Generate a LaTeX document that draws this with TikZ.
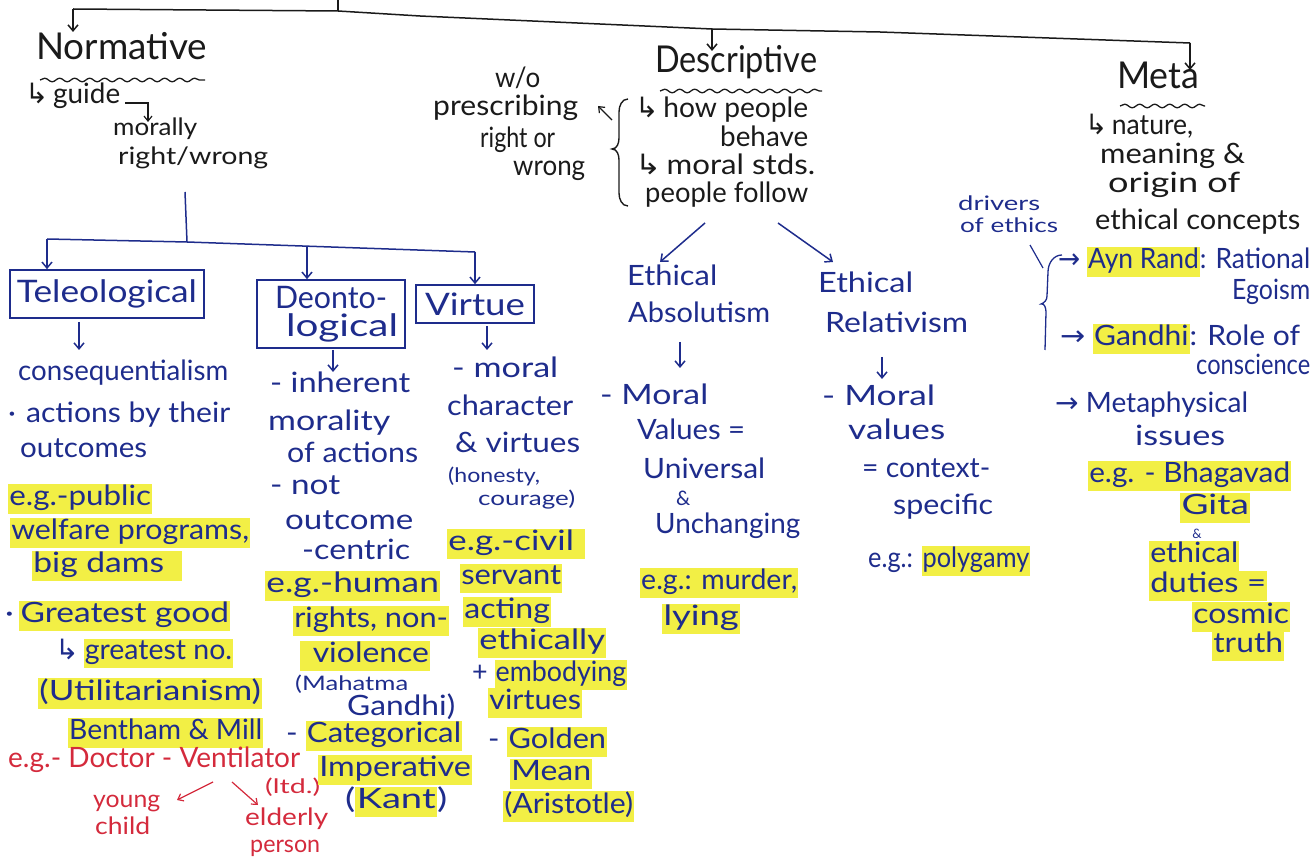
\documentclass[tikz,border=0pt]{standalone}
\usepackage{fontspec}
\setmainfont{Lato}
\newfontfamily\symf{DejaVu Sans}
\usepackage{graphicx}
\usetikzlibrary{arrows.meta,decorations.pathmorphing}
\definecolor{ink}{HTML}{1A1A1A}
\definecolor{pen}{HTML}{1E2C8C}
\definecolor{redpen}{HTML}{D42A3C}
\definecolor{hly}{HTML}{F2EF45}
% stretch a line of text to a given width, keeping its height
\newcommand\fw[2]{\resizebox{#1pt}{\height}{#2}}
% highlighter marks
\newcommand\hlt[1]{{\setlength\fboxsep{1pt}\colorbox{hly}{\rule[-7pt]{0pt}{27pt}#1}}}
\newcommand\hk{{\symf ↳}}
\newcommand\ra{{\symf →}}
\tikzset{
  ln/.style={anchor=mid west, inner sep=0pt, font=\fontsize{28}{30}\selectfont},
  md/.style={font=\fontsize{24}{28}\selectfont},
  sm/.style={font=\fontsize{20}{24}\selectfont},
  hd/.style={font=\fontsize{37}{40}\selectfont},
  k/.style={text=ink}, b/.style={text=pen}, r/.style={text=redpen},
  bar/.style={line width=1.5pt},
  con/.style={line width=1.5pt, -{Straight Barb[length=6pt,width=10pt]}},
  thin/.style={line width=1.2pt, -{Straight Barb[length=5pt,width=8pt]}},
  catbox/.style={draw=pen, line width=1.6pt, text=pen, inner sep=0pt,
    font=\fontsize{31}{34}\selectfont, align=center},
  wavy/.style={line width=1.3pt, draw=ink, decorate,
    decoration={snake, amplitude=1.8pt, segment length=15pt}}
}
\begin{document}
\begin{tikzpicture}[x=1pt, y=-1pt]
\useasboundingbox (0,0) rectangle (1314,866);

% ---------- top level tree ----------
\coordinate (T0) at (338,0);
\coordinate (T1) at (338,11);
\coordinate (L0) at (73,9);
\coordinate (D0) at (712,29);
\coordinate (M0) at (1190,43);
\coordinate (Tm1) at (420,16);
\coordinate (Tm2) at (880,32);
\coordinate (L1) at (73,32);
\coordinate (D1) at (712,51);
\coordinate (M1) at (1190,70);
\draw[bar,ink] (T0) -- (T1);
\draw[bar,ink] (L0) -- (T1) -- (Tm1) -- (D0) -- (Tm2) -- (M0);
\draw[con,ink] (L0) -- (L1);
\draw[con,ink] (D0) -- (D1);
\draw[con,ink] (M0) -- (M1);

% ---------- Normative ----------
\node[ln,hd,k] (q1) at (36,57) {\fw{171}{Normative}};
\draw[wavy] (40,80) -- (205,80);
\node[ln,k] (q2) at (25,101) {\fw{95}{\hk\,guide}};
\coordinate (g0) at (125,103);
\coordinate (g1) at (148,103);
\coordinate (g2) at (148,122);
\draw[thin,ink] (g0) -- (g1) -- (g2);
\node[ln,md,k] (q3) at (113,133) {\fw{84}{morally}};
\node[ln,md,k] (q4) at (118,162) {\fw{150}{right/wrong}};

\coordinate (N0) at (185,192);
\coordinate (N1) at (187,242);
\coordinate (NL) at (47,239);
\coordinate (ND) at (307,246);
\coordinate (NR) at (475,252);
\draw[bar,pen] (N0) -- (N1);
\draw[bar,pen] (NL) -- (N1) -- (NR);

\node[catbox, minimum width=194pt, minimum height=48pt] (B1) at (107,294) {\fw{180}{Teleological}};
\node[catbox, minimum width=148pt, minimum height=68pt] (B2) at (331,314) {\fw{112}{Deonto-}\\[-6pt]\hspace*{22pt}\fw{112}{logical}};
\node[catbox, minimum width=118pt, minimum height=38pt] (B3) at (475,304) {\fw{100}{Virtue}};
\draw[con,pen] (NL) -- (NL |- B1.north);
\draw[con,pen] (ND) -- (ND |- B2.north);
\draw[con,pen] (NR) -- (NR |- B3.north);

\coordinate (a0) at (79,322);
\coordinate (a00) at (79,350);
\draw[con,pen] (a0) -- (a00);
\coordinate (d0) at (333,350);
\coordinate (d00) at (333,372);
\draw[con,pen] (d0) -- (d00);
\coordinate (v0) at (487,326);
\coordinate (v00) at (487,350);
\draw[con,pen] (v0) -- (v00);

% Teleological column
\node[ln,b] (a1) at (18,378) {\fw{210}{consequentialism}};
\node[ln,b] (a2) at (8,420) {\fw{222}{·\,\,actions by their}};
\node[ln,b] (a3) at (20,455) {\fw{127}{outcomes}};
\node[ln,b] (a4) at (8,503) {\fw{144}{\hlt{e.g.-public}}};
\node[ln,b] (a5) at (10,537) {\fw{240}{\hlt{welfare programs,}}};
\node[ln,b] (a6) at (32,570) {\fw{150}{\hlt{big dams\hspace{14pt}}}};
\node[ln,b] (a7) at (5,620) {\fw{225}{·\,\hlt{Greatest good}}};
\node[ln,b] (a8) at (55,657) {\fw{178}{\hk\,\hlt{greatest no.}}};
\node[ln,b] (a9) at (38,698) {\fw{224}{\hlt{(Utilitarianism)}}};
\node[ln,b] (a10) at (68,737) {\fw{195}{\hlt{Bentham \& Mill}}};
\node[ln,r] (a11) at (8,765) {\fw{292}{e.g.- Doctor - Ventilator}};
\node[ln,sm,r] (a12) at (265,791) {\fw{55}{(ltd.)}};
\node[ln,md,r] (a13) at (93,805) {\fw{67}{young}};
\node[ln,md,r] (a14) at (95,832) {\fw{55}{child}};
\node[ln,md,r] (a15) at (245,823) {\fw{83}{elderly}};
\node[ln,md,r] (a16) at (250,850) {\fw{70}{person}};
\coordinate (rA) at (213,782);
\coordinate (rB) at (232,782);
\coordinate (rY) at (177,800);
\coordinate (rE) at (258,805);
\draw[thin,redpen] (rA) -- (rY);
\draw[thin,redpen] (rB) -- (rE);

% Deontological column
\node[ln,b] (d1) at (270,390) {\fw{140}{- inherent}};
\node[ln,b] (d2) at (268,428) {\fw{122}{morality}};
\node[ln,b] (d3) at (287,460) {\fw{131}{of actions}};
\node[ln,b] (d4) at (270,492) {\fw{70}{- not}};
\node[ln,b] (d5) at (285,527) {\fw{128}{outcome}};
\node[ln,b] (d6) at (302,557) {\fw{108}{-centric}};
\node[ln,b] (d7) at (265,590) {\fw{175}{\hlt{e.g.-human}}};
\node[ln,b] (d8) at (293,625) {\fw{156}{\hlt{rights, non-}}};
\node[ln,b] (d9) at (300,660) {\fw{130}{\hlt{\hspace{10pt}violence}}};
\node[ln,sm,b] (d10) at (295,688) {\fw{113}{(Mahatma}};
\node[ln,b] (d11) at (347,713) {\fw{108}{Gandhi)}};
\node[ln,b] (d12) at (286,740) {\fw{176}{- \hlt{Categorical}}};
\node[ln,b] (d13) at (318,774) {\fw{154}{\hlt{Imperative}}};
\node[ln,b] (d14) at (345,806) {\fw{102}{(\hlt{Kant})}};

% Virtue column
\node[ln,b] (v1) at (452,375) {\fw{106}{- moral}};
\node[ln,b] (v2) at (447,413) {\fw{126}{character}};
\node[ln,b] (v3) at (455,450) {\fw{125}{\& virtues}};
\node[ln,sm,b] (v4) at (448,480) {\fw{92}{(honesty,}};
\node[ln,sm,b] (v5) at (478,503) {\fw{97}{courage)}};
\node[ln,b] (v6) at (447,548) {\fw{138}{\hlt{e.g.-civil\hspace{8pt}}}};
\node[ln,b] (v7) at (460,582) {\fw{102}{\hlt{servant}}};
\node[ln,b] (v8) at (463,616) {\fw{88}{\hlt{acting}}};
\node[ln,b] (v9) at (478,647) {\fw{128}{\hlt{ethically}}};
\node[ln,b] (v10) at (472,679) {\fw{155}{+ \hlt{embodying}}};
\node[ln,b] (v11) at (488,707) {\fw{94}{\hlt{virtues}}};
\node[ln,b] (v12) at (488,746) {\fw{119}{- \hlt{Golden}}};
\node[ln,b] (v13) at (510,778) {\fw{82}{\hlt{Mean}}};
\node[ln,b] (v14) at (503,811) {\fw{131}{\hlt{(Aristotle)}}};

% ---------- Descriptive ----------
\node[ln,hd,k] (p1) at (655,70) {\fw{162}{Descriptive}};
\draw[wavy] (660,91) -- (822,91);
\node[ln,k] (p2) at (495,85) {\fw{45}{w/o}};
\node[ln,k] (p3) at (433,113) {\fw{145}{prescribing}};
\node[ln,k] (p4) at (480,145) {\fw{75}{right or}};
\node[ln,k] (p5) at (513,173) {\fw{72}{wrong}};
\coordinate (w0) at (612,120);
\coordinate (w1) at (598,106);
\draw[thin,ink] (w0) -- (w1);
\coordinate (br0) at (628,99);
\coordinate (br1) at (628,206);
\draw[line width=1.4pt,ink] (br0) to[out=180,in=90] (619,112) -- (619,138)
  to[out=-90,in=0] (612,149) to[out=0,in=90] (619,160) -- (619,193)
  to[out=-90,in=180] (br1);
\node[ln,k] (p6) at (635,115) {\fw{173}{\hk\,how people}};
\node[ln,k] (p7) at (720,144) {\fw{88}{behave}};
\node[ln,k] (p8) at (635,172) {\fw{180}{\hk\,moral stds.}};
\node[ln,k] (p9) at (645,200) {\fw{163}{people follow}};
\coordinate (s0) at (705,223);
\coordinate (s1) at (778,223);
\coordinate (s2) at (660,262);
\coordinate (s3) at (833,262);
\draw[con,pen] (s0) -- (s2);
\draw[con,pen] (s1) -- (s3);

% Ethical absolutism
\node[ln,b] (e1) at (627,283) {\fw{90}{Ethical}};
\node[ln,b] (e2) at (628,320) {\fw{142}{Absolutism}};
\coordinate (e0) at (680,342);
\coordinate (e00) at (680,368);
\draw[con,pen] (e0) -- (e00);
\node[ln,b] (e3) at (600,402) {\fw{108}{- Moral}};
\node[ln,b] (e4) at (637,437) {\fw{108}{Values =}};
\node[ln,b] (e5) at (643,476) {\fw{122}{Universal}};
\node[ln,sm,b] (e6) at (676,503) {\&};
\node[ln,b] (e7) at (655,531) {\fw{145}{Unchanging}};
\node[ln,b] (e8) at (640,587) {\fw{158}{\hlt{e.g.: murder,}}};
\node[ln,b] (e9) at (662,623) {\fw{78}{\hlt{lying}}};

% Ethical relativism
\node[ln,b] (f1) at (818,290) {\fw{95}{Ethical}};
\node[ln,b] (f2) at (825,330) {\fw{143}{Relativism}};
\coordinate (f0) at (882,357);
\coordinate (f00) at (882,379);
\draw[con,pen] (f0) -- (f00);
\node[ln,b] (f3) at (822,403) {\fw{113}{- Moral}};
\node[ln,b] (f4) at (848,437) {\fw{97}{values}};
\node[ln,b] (f5) at (862,475) {\fw{128}{= context-}};
\node[ln,b] (f6) at (893,512) {\fw{100}{specific}};
\node[ln,b] (f7) at (868,565) {\fw{162}{e.g.: \hlt{polygamy}}};

% ---------- Meta ----------
\node[ln,hd,k] (m1) at (1117,86) {\fw{82}{Meta}};
\draw[wavy] (1120,106) -- (1205,106);
\node[ln,k] (m2) at (1085,132) {\fw{108}{\hk\,nature,}};
\node[ln,k] (m3) at (1100,161) {\fw{145}{meaning \&}};
\node[ln,k] (m4) at (1108,190) {\fw{132}{origin of}};
\node[ln,k] (m5) at (1095,227) {\fw{205}{ethical concepts}};

\node[ln,sm,b] (h1) at (958,208) {\fw{82}{drivers}};
\node[ln,sm,b] (h2) at (960,230) {\fw{98}{of ethics}};
\coordinate (c0) at (1030,245);
\coordinate (c1) at (1043,268);
\draw[line width=1.2pt,pen] (c0) -- (c1);
\coordinate (c2) at (1062,255);
\coordinate (c3) at (1045,350);
\draw[line width=1.3pt,pen] (c2) to[out=180,in=90] (1048,272) -- (1047,296)
  to[out=-90,in=20] (1041,304) to[out=20,in=90] (1046,312) -- (c3);
\node[ln,b] (k1) at (1058,266) {\fw{252}{\ra\ \hlt{Ayn Rand}: Rational}};
\node[ln,b] (k2) at (1232,297) {\fw{78}{Egoism}};
\node[ln,b] (k3) at (1060,343) {\fw{240}{\ra\ \hlt{Gandhi}: Role of}};
\node[ln,b] (k4) at (1196,372) {\fw{114}{conscience}};

\node[ln,b] (g1n) at (1055,410) {\fw{193}{\ra\ Metaphysical}};
\node[ln,b] (g2n) at (1135,443) {\fw{90}{issues}};
\node[ln,b] (g3n) at (1088,480) {\fw{203}{\hlt{e.g. - Bhagavad}}};
\node[ln,b] (g4n) at (1180,512) {\fw{70}{\hlt{Gita}}};
\node[inner sep=0pt, font=\fontsize{13}{14}\selectfont, text=pen] (g5n) at (1197,534) {\&};
\node[ln,b] (g6n) at (1149,560) {\fw{90}{\hlt{ethical}}};
\node[ln,b] (g7n) at (1149,590) {\fw{118}{\hlt{duties =}}};
\node[ln,b] (g8n) at (1192,621) {\fw{98}{\hlt{cosmic}}};
\node[ln,b] (g9n) at (1212,650) {\fw{72}{\hlt{truth}}};
\end{tikzpicture}
\end{document}
